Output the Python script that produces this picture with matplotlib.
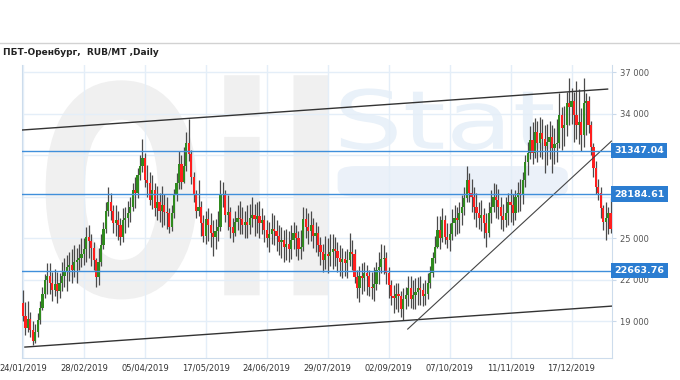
import matplotlib
matplotlib.use("Agg")
import matplotlib.pyplot as plt
from matplotlib.lines import Line2D
from matplotlib.patches import PathPatch, FancyBboxPatch
from matplotlib.textpath import TextPath
from matplotlib.font_manager import FontProperties
from matplotlib.transforms import Affine2D, blended_transform_factory

# Daily candles, 24/01/2019 .. end of 2019 (RUB/MT)
first_open = 20300
close = [
    19400, 18500, 19200, 18400, 17600, 18200, 19100, 20000, 21000, 22000,
    22300, 21800, 21300, 21700, 21200, 21800, 22300, 22600, 22900, 23100,
    22700, 23300, 23400, 23600, 23900, 24200, 25100, 24800, 24300, 23400,
    22200, 23300, 24500, 25700, 27000, 27600, 27000, 26100, 26300, 26000,
    25100, 26300, 26500, 26800, 27300, 28500, 28300, 29600, 30200, 30800,
    29200, 29000, 27800, 28500, 27200, 27600, 27000, 27400, 26900, 26800,
    25800, 26800, 28100, 29000, 30400, 29100, 30200, 31900, 31100, 29400,
    28100, 27000, 27300, 26100, 25200, 26400, 26000, 25400, 25100, 25500,
    25800, 28100, 28200, 26700, 26900, 25800, 25400, 26200, 26500, 26400,
    26000, 26200, 26000, 26500, 26700, 26400, 26600, 26100, 26300, 25600,
    25000, 25300, 25700, 25500, 25200, 24700, 24900, 24400, 24600, 24200,
    24900, 25400, 25000, 24200, 24400, 26400, 25800, 25500, 26000, 25200,
    25400, 24500, 24000, 23400, 23900, 23700, 24000, 24200, 24100, 23600,
    23300, 23500, 23200, 23400, 24000, 23900, 22200, 21400, 22300, 22100,
    22500, 22300, 21500, 21400, 21700, 22700, 22900, 23500, 23600, 22500,
    21600, 20800, 20700, 21000, 20800, 19900, 20600, 20900, 21400, 20600,
    20900, 21100, 21400, 21300, 20800, 21000, 21800, 22500, 23600, 24400,
    25600, 25000, 26300, 25100, 24900, 25300, 26100, 26500, 26300, 26800,
    27300, 27900, 29200, 28300, 28000, 27300, 26800, 26500, 26700, 26100,
    25400, 26800, 27300, 28000, 27800, 27300, 26600, 26300, 26800, 27600,
    27400, 26800, 28000, 28300, 28200, 29200, 30500, 31200, 32100, 31200,
    32700, 31900, 32600, 32200, 31700, 32000, 32300, 31500, 31800, 31900,
    33900, 33000, 33200, 34800, 34500, 34900, 33900, 33200, 33400, 32500,
    34800, 34900, 33200, 31600, 30100, 28700, 28300, 27200, 26200, 26500,
    26800, 25700,
]
high = [
    21300, 20400, 20500, 19700, 19000, 18800, 19600, 20500, 21500, 22400,
    23200, 23200, 22600, 22800, 22600, 22500, 23300, 23600, 23800, 24000,
    24200, 24500, 24300, 24600, 25000, 25000, 25800, 26000, 25300, 24700,
    23600, 24300, 25300, 26200, 27600, 28700, 28300, 27400, 27400, 27000,
    26500, 27200, 27300, 27700, 28000, 29000, 29400, 30100, 31000, 32200,
    31200, 30300, 29800, 29600, 29000, 28800, 28300, 28800, 28200, 28000,
    27200, 27400, 28600, 29700, 31300, 31000, 31600, 32700, 33600, 31400,
    29800, 28500, 29200, 27700, 26700, 27000, 27200, 26800, 26300, 26400,
    27000, 29200, 29100, 28500, 28100, 27300, 26500, 27000, 27400, 27700,
    27300, 27000, 27400, 27500, 28000, 27500, 27600, 27700, 27200, 26700,
    26300, 26200, 26800, 26700, 26300, 26000, 25800, 25600, 25700, 25500,
    26000, 26200, 26000, 25500, 25600, 27300, 27200, 26800, 27000, 26500,
    26200, 25900, 25100, 24600, 25200, 25000, 25300, 25300, 25100, 24700,
    24500, 24300, 24100, 24200, 25400, 24900, 24200, 22700, 23000, 23200,
    23300, 23100, 22700, 22600, 22900, 23300, 24000, 24600, 24500, 24000,
    22900, 22000, 21600, 21800, 21800, 21200, 21400, 21500, 22300, 22300,
    22000, 22100, 22200, 22300, 21800, 22000, 22500, 23000, 24000, 25200,
    26600, 26600, 27200, 26700, 26100, 26100, 27100, 27400, 27300, 27600,
    28100, 28700, 30200, 29700, 29300, 28700, 28300, 27600, 27800, 27200,
    26800, 27600, 28500, 29000, 28900, 28600, 28000, 27500, 28000, 28300,
    28600, 28200, 28500, 29100, 29300, 29800, 31000, 32000, 33100, 33400,
    33700, 33500, 33800, 33600, 33200, 33300, 33500, 33200, 33000, 33600,
    35500, 34500, 34600, 35600, 36600, 35900, 35600, 36400, 35800, 34400,
    36600, 35500, 35300, 33500, 31900, 30600, 29300, 28700, 27400, 27600,
    27300, 27900,
]
low = [
    19000, 18000, 18200, 17900, 17300, 17400, 17900, 18800, 19800, 20700,
    21000, 21000, 20500, 20800, 20300, 20700, 21200, 21500, 21200, 21900,
    21800, 22200, 21800, 22700, 22900, 23100, 23300, 23600, 23000, 22700,
    21500, 21600, 23000, 24200, 25400, 26600, 26300, 25400, 25200, 24900,
    24500, 24700, 25400, 25800, 26200, 27000, 27200, 27900, 29200, 29800,
    28700, 28000, 27400, 27100, 26600, 26300, 26200, 25800, 26000, 25700,
    25400, 25500, 26500, 27700, 28600, 28600, 29000, 29900, 30600, 28900,
    27600, 26500, 26600, 25200, 24700, 24600, 24800, 24400, 23700, 24200,
    24800, 25500, 27300, 26200, 25600, 25000, 24700, 25200, 25600, 25300,
    25300, 25000, 25000, 25300, 25800, 25200, 25400, 25000, 25300, 24700,
    24400, 24000, 24600, 24500, 24100, 23800, 23600, 23300, 23400, 23300,
    23500, 24200, 23700, 23400, 23500, 24100, 25000, 24600, 24800, 24300,
    24000, 23700, 23100, 22600, 22800, 22500, 23000, 22800, 23000, 22600,
    22300, 22100, 22300, 22100, 23000, 22700, 21800, 20700, 20400, 21000,
    21200, 20900, 20800, 20600, 20500, 21300, 21700, 22500, 22400, 21700,
    20700, 20200, 19600, 19900, 19700, 19300, 19100, 19900, 20100, 20000,
    19900, 19900, 20200, 20200, 20100, 20200, 20600, 21400, 22200, 23200,
    24300, 24200, 24700, 24600, 24300, 24100, 24900, 25200, 25300, 25400,
    26000, 26700, 27600, 27600, 26900, 26400, 25800, 25700, 25500, 25000,
    24400, 25100, 26100, 26900, 26500, 26400, 25700, 25500, 25800, 26000,
    26200, 26000, 26300, 26900, 27000, 27500, 28700, 29600, 30700, 30400,
    30800, 30500, 30900, 30700, 29700, 30300, 30700, 29700, 30400, 30500,
    31500, 31400, 31700, 32400, 33200, 33300, 32000, 32200, 31800, 31300,
    31600, 32500, 32600, 31000, 29400, 28200, 27800, 26500, 25600, 24900,
    25300, 25400,
]
opens = [first_open] + close[:-1]

levels = [31347.04, 28184.61, 22663.76]
tick_pos = [0, 25, 50, 75, 100, 125, 150, 175, 200, 225]
tick_labels = ["24/01/2019", "28/02/2019", "05/04/2019", "17/05/2019", "24/06/2019",
               "29/07/2019", "02/09/2019", "07/10/2019", "11/11/2019", "17/12/2019"]
price_ticks = [19000, 22000, 25000, 28000, 31000, 34000, 37000]
# 28 000 and 31 000 sit under the level boxes in the original
price_labels = ["19 000", "22 000", "25 000", "", "", "34 000", "37 000"]

# trend lines: (candle index, price) endpoints
top_line = ([-0.4, 239.8], [32830, 35790])
bottom_line = ([0.8, 241.4], [17140, 20100])
rise_line = ([157.8, 241.4], [18440, 32030])

fig = plt.figure(figsize=(6.8, 3.8), dpi=100)
ax = fig.add_axes([22 / 680, 1 - 358 / 380, 590 / 680, 293 / 380])
ax.set_xlim(-0.4, 241.6)
ax.set_ylim(16350, 37530)


def watermark(text, box, color, weight="bold"):
    tp = TextPath((0, 0), text, size=100, prop=FontProperties(family="DejaVu Sans", weight=weight))
    ext = tp.get_extents()
    x0, y0, x1, y1 = box
    tr = (Affine2D().translate(-ext.x0, -ext.y0)
          .scale((x1 - x0) / ext.width, (y1 - y0) / ext.height).translate(x0, y0))
    ax.add_patch(PathPatch(tr.transform_path(tp), fc=color, ec="none",
                           transform=ax.transAxes, zorder=0))


watermark("Oil", (0.04, 0.2, 0.52, 0.965), "#f0f0f0")
watermark("Stat", (0.54, 0.71, 0.9, 0.92), "#e9f1f9", weight="normal")
ax.add_patch(FancyBboxPatch((0.535, 0.55), 0.39, 0.105, boxstyle="round,pad=0,rounding_size=0.03",
                            transform=ax.transAxes, fc="#ebf1f9", ec="none", zorder=0))

# grid
for t in tick_pos:
    ax.axvline(t, color="#e4eef8", lw=1, zorder=1)
for p in price_ticks:
    ax.axhline(p, color="#e4eef8", lw=1, zorder=1)

# candles
idx = list(range(len(close)))
ax.vlines(idx, low, high, color="#4a4a4a", lw=0.9, zorder=3)
body_col = []
bottoms = []
heights = []
for o, c in zip(opens, close):
    bottoms.append(min(o, c))
    heights.append(max(abs(c - o), 70))
    if c > o:
        body_col.append("#2f8a1e")
    elif c < o:
        body_col.append("#ff1f1f")
    else:
        body_col.append("#222222")
ax.bar(idx, heights, bottom=bottoms, width=0.9, color=body_col, lw=0, zorder=4)

# trend lines
ax.plot(*top_line, color="#333333", lw=1, zorder=5)
ax.plot(*bottom_line, color="#333333", lw=1, zorder=5)
ax.plot(*rise_line, color="#444444", lw=0.8, zorder=5)

# levels with labels on the price axis
blend = blended_transform_factory(ax.transAxes, ax.transData)
for lv in levels:
    ax.axhline(lv, color="#3f8fdb", lw=1, zorder=6)
    ax.text(1.004, lv, f"{lv:.2f}", transform=blend, ha="left", va="center",
            color="white", fontsize=6.8, fontweight="bold", zorder=7, clip_on=False,
            bbox=dict(boxstyle="square,pad=0.35", fc="#2b7dd1", ec="none"))

ax.yaxis.tick_right()
ax.set_yticks(price_ticks)
ax.set_yticklabels(price_labels)
ax.tick_params(axis="y", length=3, color="#c9d9ea", labelsize=6, labelcolor="#555555", pad=3)
ax.set_xticks(tick_pos)
ax.set_xticklabels(tick_labels)
ax.tick_params(axis="x", length=0, labelsize=6, labelcolor="#333333", pad=4)

ax.spines["top"].set_visible(False)
for side in ["left", "right", "bottom"]:
    ax.spines[side].set_color("#cddcec")
ax.patch.set_alpha(0)

fig.add_artist(Line2D([0, 1], [1 - 43 / 380] * 2, transform=fig.transFigure,
                      color="#d2d2d2", lw=1))
fig.text(3 / 680, 1 - 52 / 380, "ПБТ-Оренбург,  RUB/MT ,Daily", fontsize=6.5,
         fontweight="bold", color="#222222", va="center", ha="left")

fig.savefig("out.png", dpi=100)
